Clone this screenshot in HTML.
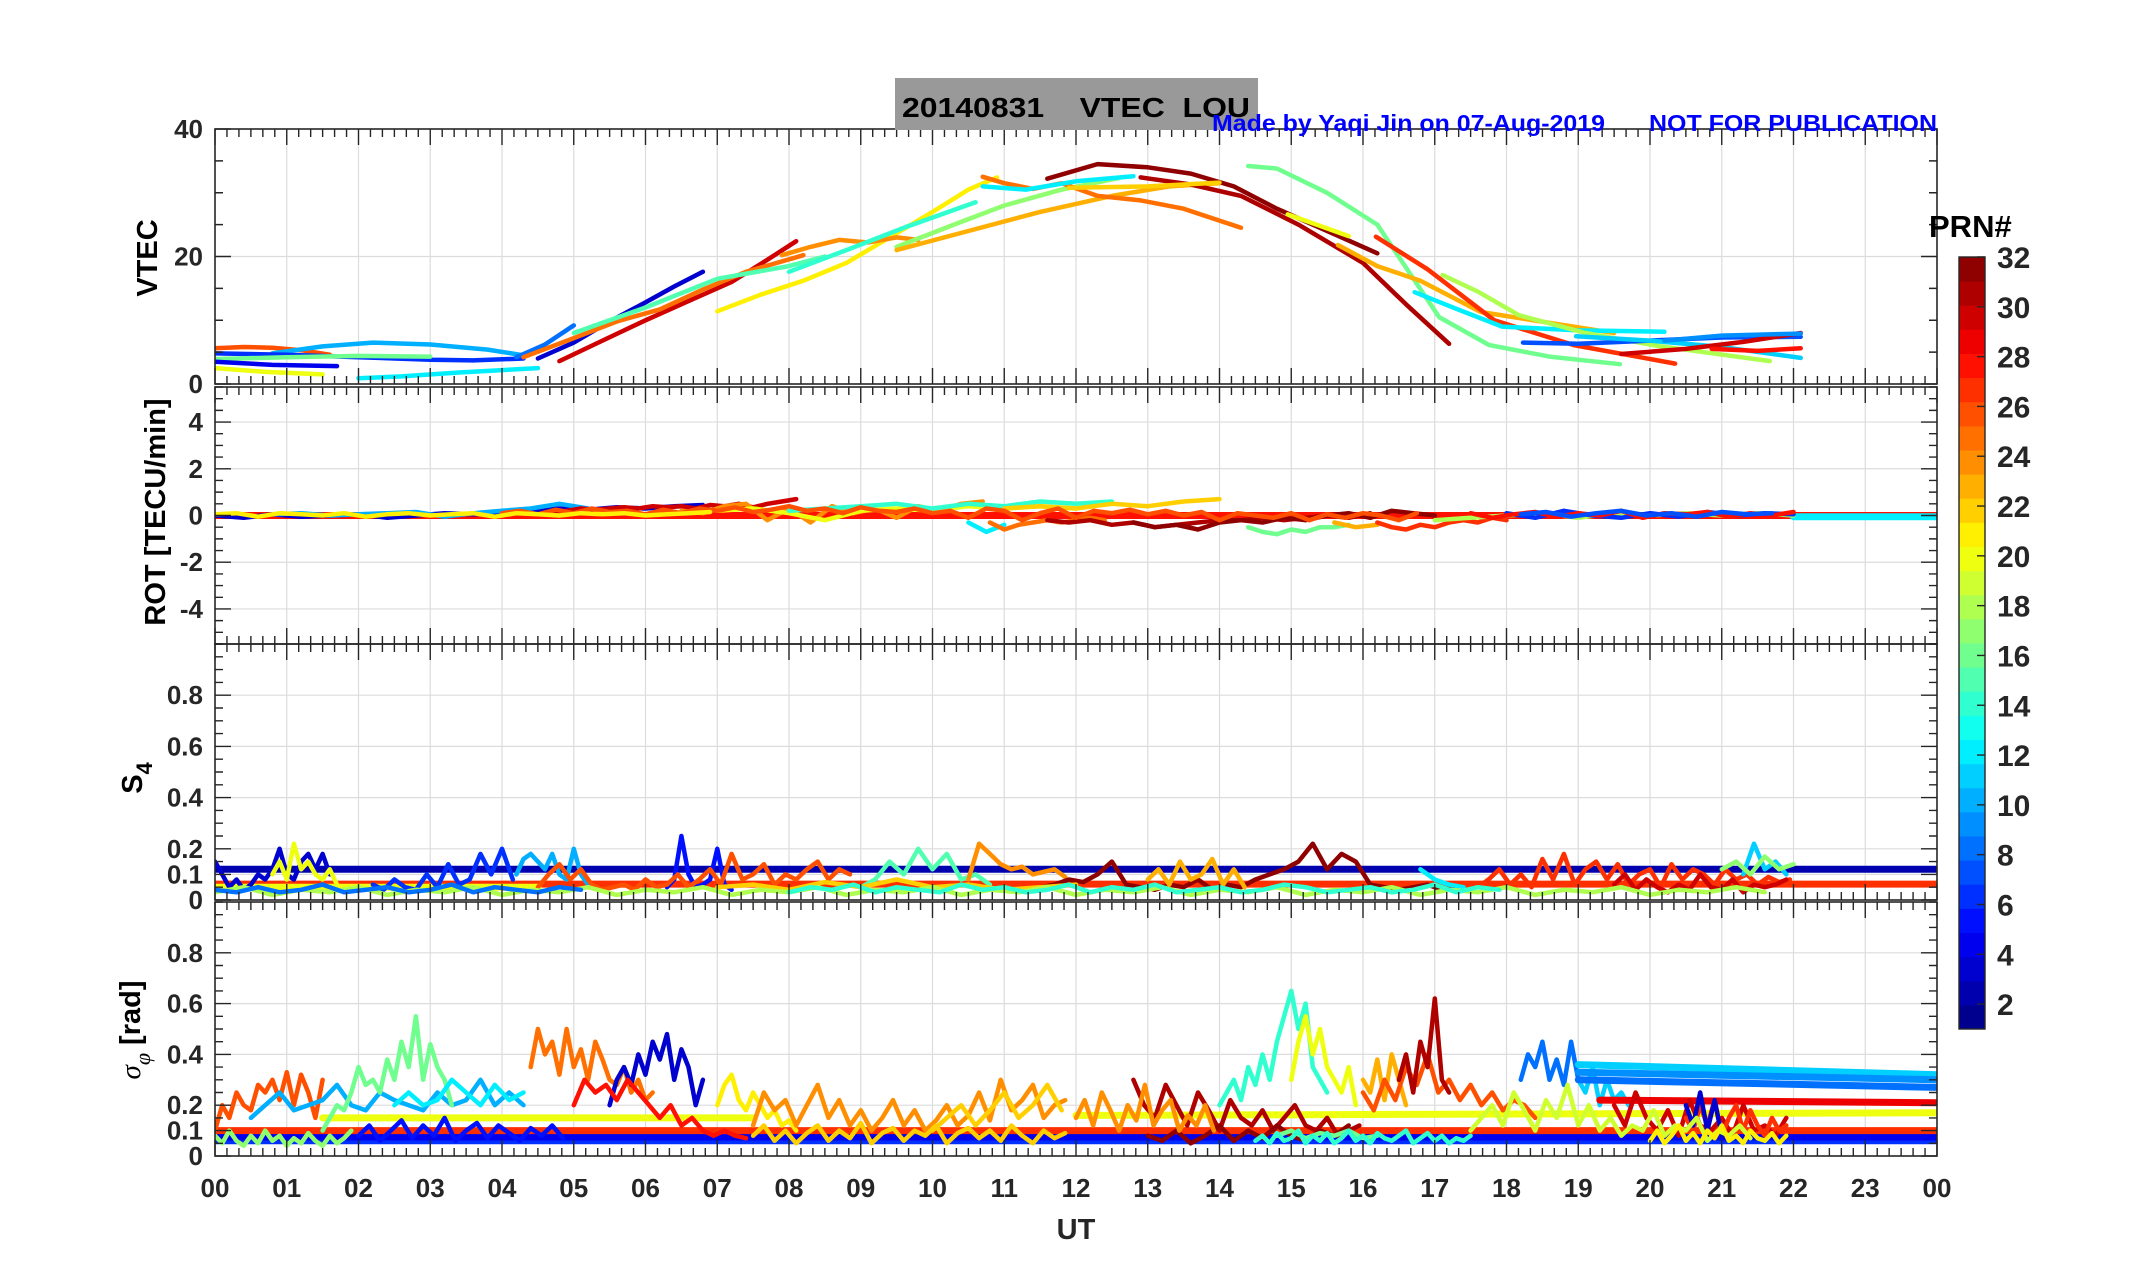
<!DOCTYPE html>
<html><head><meta charset="utf-8"><title>20140831 VTEC LOU</title>
<style>html,body{margin:0;padding:0;background:#fff}svg{display:block}text{font-family:"Liberation Sans",Arial,sans-serif;font-weight:bold}</style></head>
<body>
<svg id="chart" width="2153" height="1286" viewBox="0 0 2153 1286" xmlns="http://www.w3.org/2000/svg">
<rect x="0" y="0" width="2153" height="1286" fill="#fff"/>
<g id="grid"></g><g id="marks"></g><g id="axes"></g>
<rect x="895" y="78" width="363" height="52" fill="#999"/>
<text x="902" y="117" font-size="28" fill="#000" textLength="348" lengthAdjust="spacingAndGlyphs" xml:space="preserve">20140831    VTEC  LOU</text>
<text x="1212" y="131" font-size="23" fill="#0000ff" textLength="393" lengthAdjust="spacingAndGlyphs">Made by Yaqi Jin on 07-Aug-2019</text>
<text x="1649" y="131" font-size="23" fill="#0000ff" textLength="288" lengthAdjust="spacingAndGlyphs">NOT FOR PUBLICATION</text>
<text transform="translate(157,258) rotate(-90)" text-anchor="middle" font-size="29" fill="#000">VTEC</text>
<text transform="translate(165,512) rotate(-90)" text-anchor="middle" font-size="29" fill="#000">ROT [TECU/min]</text>
<text transform="translate(142,778) rotate(-90)" text-anchor="middle" font-size="29" fill="#000">S<tspan font-size="22" dy="10">4</tspan></text>
<text transform="translate(140,1030) rotate(-90)" text-anchor="middle" font-size="29" fill="#000"><tspan font-family="Liberation Serif" font-style="italic" font-weight="normal">σ</tspan><tspan font-size="22" dy="10" font-family="Liberation Serif" font-style="italic" font-weight="normal">φ</tspan><tspan dy="-10"> [rad]</tspan></text>
<text x="1076" y="1239" text-anchor="middle" font-size="29" fill="#262626">UT</text>
<g id="cbar"></g>
<text x="1929" y="237" font-size="31" fill="#000">PRN#</text>
</svg>
<script>
// ---------- data ----------
const hourLabels=["00","01","02","03","04","05","06","07","08","09","10","11","12","13","14","15","16","17","18","19","20","21","22","23","00"];
const prnTicks=[2,4,6,8,10,12,14,16,18,20,22,24,26,28,30,32];
// VTEC arcs: prn, times (h), values (TECU)
const vtecPrn=[26,10,6,16,4,20,12,8,3,30,25,15,21,24,17,14,23,25,12,32,31,16,20,22,23,27,12,18,7,11,30,28,9];
const vtecT=[
[0,0.4,0.8,1.2,1.6],[0.8,1.5,2.2,3,3.8,4.3],[0,1,2,3,3.6,4.3],[0,1,2,3],[0,0.8,1.7],[0,0.7,1.5],[2,2.6,3.4,4.5],
[4.2,4.6,5.0],[4.5,5,5.5,6,6.4,6.8],[4.8,5.4,6,6.6,7.2,7.7,8.1],[4.3,5,5.6,6.2,6.8,7.4,8.2],[5.0,6,7,8,8.5],
[7,7.6,8.2,8.8,9.4,10,10.5,10.9],[7.9,8.3,8.7,9.1,9.5,9.8],[9.5,10.3,11,11.8,12.6],[8,8.8,9.6,10.6],[9.5,10.5,11.5,12.5,13.3,14],
[10.7,11,11.4,11.8,12.3,12.9,13.5,14.3],[10.7,11.3,12,12.8],[11.6,12.3,13,13.6,14.2,14.8,15.4,16.2],[12.9,13.6,14.3,15.1,16,16.6,17.2],
[14.4,14.8,15.5,16.2,17.06,17.76,18.6,19.58],[14.95,15.4,15.8],[11.9,13,14],[15.65,16.2,16.8,17.64,18.6,19.5],[16.18,16.9,17.83,18.94,20.35],
[16.72,17.3,17.94,19,20.2],[17.11,17.6,18.17,19.1,20.1,21.67],[18.23,19,20,21,22.1],[18.97,20,21,22.1],[19.6,20.5,21.3,22.1],[20.86,21.5,22.1],[20.2,21,22.1]];
const vtecV=[
[5.6,5.8,5.7,5.3,4.6],[4.8,5.9,6.5,6.2,5.4,4.5],[4.8,4.6,4.2,3.8,3.7,4.0],[3.9,4.2,4.4,4.3],[3.5,3.0,2.8],[2.5,1.9,1.5],[0.9,1.2,1.8,2.5],
[4.2,6.2,9.2],[4,6.5,9.8,12.8,15.3,17.6],[3.6,6.8,10,13,16,19.5,22.4],[4.2,7.2,9.8,11.7,14.8,17.6,20.2],[8,12,16.5,18.5,20],
[11.4,14,16.2,19,23,27,30.5,32.4],[20.2,21.5,22.6,22.2,23,22.6],[21.5,25,28,30.5,32.3],[17.6,21,24.5,28.5],[21,24,27,29.5,31,31.5],
[32.5,31.5,30.6,31.5,29.5,28.8,27.5,24.5],[31,30.5,31.8,32.6],[32.2,34.5,34,33,31,27.5,24.5,20.5],[32.4,31.3,29.5,25,19,12.5,6.3],
[34.2,33.8,30,25,10.5,6.1,4.3,3.1],[26.6,24.8,23.2],[30.8,31,31.6],[21.8,18.5,16.2,11.3,9.6,8],[23.1,18,10,6.1,3.2],
[14.4,11.8,9,8.4,8.2],[17.1,14.5,10.8,8,6,3.6],[6.5,6.3,6.8,7.3,7.4],[7.5,6.8,5.8,4.1],[4.7,5.5,6.6,8],[5.5,5.2,5.6],[6.8,7.6,7.9]];
// ROT series: prn, start time, step (h), values (TECU/min)
const rotPrn=[28,12,3,10,30,24,20,14,12,25,22,31,32,16,23,27,18,6,28,7,26,21];
const rotT0=[0,22,0,0.8,4.7,6.5,7,8,10.5,10.8,11,11.6,12.8,14.4,15.6,16.2,17,18,17.5,18.2,4,0];
const rotDt=[24,2,0.4,0.4,0.2,0.3,0.5,0.5,0.25,0.2,0.5,0.3,0.3,0.2,0.3,0.2,0.5,0.4,0.3,0.35,0.25,0.3];
const rotV=[
[0,0],[-0.05,-0.05],
[0,-0.1,0.05,-0.05,0,0.05,-0.1,0,0.1,0.05,0.1,0.2,0.3,0.25,0.35,0.3,0.4,0.45],
[0.05,0.1,0,0.05,0.1,0.15,-0.05,0.1,0.2,0.3,0.5,0.3],
[0.1,0.2,0.3,0.25,0.3,0.35,0.3,0.4,0.35,0.4,0.3,0.45,0.4,0.5,0.35,0.5,0.6,0.7],
[0.2,0.1,0.4,0.5,-0.2,0.3,-0.3,0.4,0.1,0.3,-0.1,0.4,0.2,0.5,0.6],
[0.2,0.3,0.1,-0.2,0.2,0.3,0.2,0.4,0.3,0.4,0.3],
[0.2,0.3,0.4,0.5,0.3,0.5,0.4,0.6,0.5,0.6],
[-0.3,-0.7,-0.4],
[-0.3,-0.6,-0.4,-0.3,-0.2,-0.3,-0.2,-0.1,-0.2],
[0.3,0.4,0.3,0.5,0.4,0.6,0.7],
[-0.2,-0.3,-0.2,-0.4,-0.3,-0.5,-0.4,-0.3,-0.2,-0.2,-0.1,-0.2,-0.1,0,-0.1,0.1],
[-0.3,-0.5,-0.4,-0.6,-0.3,-0.2,-0.3,-0.1,-0.2,0,0.1,-0.1,0.2,0.1,0],
[-0.5,-0.7,-0.8,-0.6,-0.7,-0.5,-0.5,-0.4],
[-0.3,-0.5,-0.4],
[-0.3,-0.5,-0.6,-0.4,-0.5,-0.3,-0.2,-0.3,-0.1,-0.2],
[-0.2,-0.1,0,0.1,-0.1,0.1,0,0.1,0,0.1,0],
[0.1,-0.1,0.2,0,-0.1,0.1,-0.05,0.15,0,0.1,0.05],
[0.1,-0.1,0.05,0.15,-0.05,0.1,0,0.2,-0.1,0.1,0.05,0.15,-0.05,0.1,0,0.15],
[0.05,0.15,-0.05,0.1,0.2,0,0.1,-0.05,0.15,0.05,0.1],
[0.1,0.2,0.05,0.25,0.1,0.3,0.15,0.2,0.05,0.25,0.1,0.3,0.2,0.35,0.15,0.25,0.4,0.2,0.3,0.1,0.35,0.2,0.15,0.3,0.1,0.2,-0.1,0.3,0.2,-0.2,0.1,0.3,-0.1,0.2,0.1,0.25,0.05,0.2,0,0.15,-0.2,0.1,0,-0.1,0.1,-0.2,0.05,-0.1,0.1,0,-0.2,0.1],
[0.05,0.1,-0.05,0.1,0.05,0,0.1,-0.05,0.05,0.1,0,0.05,0.1,-0.05,0.1,0.05,0,0.1,0.05,0.1,0,0.05,0.1,0.15]];
// S4 series
const s4Prn=[2,27,20,3,20,6,10,5,26,15,24,32,23,12,27,30,11,17,22,18,8,14];
const s4T0=[0,0,0,0,0.8,2.2,4.2,6.3,4.5,9,10.5,11.5,13,16.8,17.6,19.5,21.3,21,7,0,0,8];
const s4Dt=[24,24,4.5,0.1,0.1,0.15,0.1,0.1,0.15,0.2,0.15,0.2,0.15,0.2,0.15,0.15,0.15,0.2,0.5,0.4,0.3,0.3];
const s4V=[
[0.12,0.12],[0.062,0.062],[0.05,0.05],
[0.15,0.1,0.05,0.08,0.04,0.06,0.1,0.08,0.12,0.2,0.1,0.08,0.15,0.18,0.12,0.18,0.1],
[0.1,0.15,0.08,0.22,0.12,0.15,0.1,0.08,0.12,0.06],
[0.06,0.04,0.08,0.05,0.04,0.1,0.05,0.14,0.06,0.08,0.18,0.1,0.2,0.08],
[0.1,0.16,0.18,0.15,0.12,0.18,0.1,0.08,0.2,0.1,0.06,0.05],
[0.05,0.08,0.25,0.1,0.05,0.06,0.08,0.2,0.06,0.04],
[0.05,0.1,0.14,0.08,0.12,0.06,0.04,0.05,0.06,0.04,0.08,0.05,0.06,0.1,0.05,0.08,0.12,0.06,0.18,0.08,0.1,0.14,0.06,0.1,0.08,0.12,0.15,0.08,0.12,0.1],
[0.05,0.08,0.15,0.1,0.2,0.12,0.18,0.08,0.1,0.06],
[0.08,0.22,0.18,0.14,0.12,0.13,0.1,0.11,0.12,0.09],
[0.05,0.06,0.08,0.07,0.1,0.15,0.06,0.05,0.04,0.06,0.05,0.08,0.04,0.06,0.05,0.08,0.1,0.12,0.15,0.22,0.12,0.18,0.15,0.06,0.05,0.04,0.05,0.06,0.04,0.05],
[0.08,0.12,0.06,0.15,0.08,0.1,0.16,0.06,0.12,0.05],
[0.12,0.08,0.06,0.05],
[0.05,0.08,0.12,0.06,0.1,0.05,0.16,0.08,0.18,0.06,0.12,0.15,0.08,0.14,0.06,0.1,0.12,0.05,0.14,0.08,0.12,0.1,0.06,0.12,0.08,0.1,0.06,0.09,0.07,0.08],
[0.06,0.1,0.04,0.08,0.05,0.03,0.06,0.04,0.1,0.05,0.04,0.08,0.03,0.06,0.05,0.06,0.08],
[0.1,0.22,0.12,0.15,0.1],
[0.12,0.15,0.1,0.17,0.12,0.14],
[0.05,0.06,0.04,0.07,0.05,0.08,0.05,0.06,0.04,0.05,0.06],
[0.03,0.05,0.02,0.04,0.03,0.05,0.02,0.04,0.03,0.05,0.02,0.04,0.03,0.05,0.02,0.04,0.03,0.05,0.02,0.04,0.03,0.05,0.02,0.04,0.03,0.05,0.02,0.04,0.03,0.05,0.02,0.04,0.03,0.05,0.02,0.04,0.03,0.05,0.02,0.04,0.03,0.05,0.02,0.04,0.03,0.05,0.02,0.04,0.03,0.05,0.02,0.04,0.03,0.05,0.03],
[0.04,0.03,0.05,0.03,0.04,0.06,0.03,0.04,0.05,0.03,0.04,0.06,0.03,0.05,0.04,0.03,0.05,0.04],
[0.03,0.05,0.04,0.06,0.03,0.05,0.04,0.03,0.06,0.04,0.05,0.03,0.04,0.06,0.03,0.05,0.04,0.06,0.03,0.04,0.05,0.03,0.04,0.06,0.05,0.03,0.04,0.05,0.03,0.04,0.06,0.03,0.05,0.04]];
// Sigma-phi series
const spPrn=[6,4,27,20,20,26,10,16,12,25,3,28,21,24,22,31,32,14,20,23,26,31,8,11,11,9,8,29,30,27,3,16,17,5,22,14,24,19,21];
const spT0=[0,0,0,1.5,12,0,0.5,1.5,2.5,4.4,5.5,5,7,7.5,10,12.8,13,14,15,16,16,16.5,18.2,19,19,19,19,19.3,19.5,20.5,20.5,14.8,0,2,7.5,14.5,12,17.5,20];
const spDt=[24,24,24,6,12,0.1,0.2,0.1,0.2,0.1,0.1,0.15,0.1,0.15,0.2,0.15,0.2,0.1,0.1,0.1,0.15,0.1,0.1,0.1,5,5,5,4.7,0.15,0.1,0.1,0.2,0.1,0.15,0.15,0.1,0.12,0.15,0.1];
const spV=[
[0.06,0.06],[0.075,0.075],[0.1,0.1],[0.15,0.15],[0.16,0.17],
[0.1,0.2,0.15,0.25,0.2,0.18,0.28,0.25,0.3,0.22,0.33,0.2,0.32,0.25,0.15,0.3],
[0.15,0.2,0.25,0.18,0.2,0.22,0.28,0.2,0.18,0.25,0.22,0.2,0.18,0.25,0.2,0.22,0.3,0.2,0.25,0.2],
[0.1,0.15,0.2,0.18,0.25,0.35,0.28,0.3,0.25,0.38,0.3,0.45,0.35,0.55,0.3,0.44,0.35,0.3,0.2],
[0.2,0.25,0.2,0.22,0.3,0.25,0.2,0.28,0.22,0.25],
[0.35,0.5,0.4,0.45,0.32,0.5,0.35,0.42,0.3,0.45,0.38,0.3,0.28,0.35,0.25,0.3,0.22,0.25],
[0.2,0.3,0.35,0.28,0.4,0.32,0.45,0.38,0.48,0.3,0.42,0.35,0.2,0.3],
[0.2,0.3,0.25,0.28,0.22,0.3,0.25,0.2,0.15,0.2,0.12,0.15,0.1,0.08,0.1,0.08,0.07],
[0.2,0.28,0.32,0.22,0.18,0.25,0.2,0.15,0.18,0.12,0.14,0.1],
[0.12,0.25,0.18,0.22,0.12,0.2,0.28,0.15,0.22,0.12,0.18,0.1,0.15,0.22,0.12,0.18,0.1,0.14,0.2,0.12,0.16,0.25,0.14,0.3,0.18,0.22,0.28,0.15,0.2,0.22],
[0.1,0.15,0.2,0.12,0.18,0.25,0.15,0.2,0.28,0.18],
[0.3,0.2,0.15,0.28,0.2,0.12,0.25,0.18,0.1,0.22,0.15,0.12,0.18,0.1,0.15,0.2,0.12,0.1,0.15,0.08,0.1,0.12],
[0.08,0.06,0.1,0.05,0.08,0.12,0.06,0.1,0.07,0.12,0.08,0.06,0.1,0.08,0.12],
[0.2,0.25,0.3,0.22,0.35,0.28,0.4,0.3,0.45,0.55,0.65,0.5,0.6,0.35,0.3,0.25],
[0.3,0.45,0.55,0.4,0.5,0.35,0.3,0.25,0.35,0.2],
[0.3,0.25,0.38,0.22,0.4,0.3,0.2],
[0.25,0.18,0.3,0.22,0.35,0.28,0.4,0.25,0.3,0.22,0.28,0.2,0.25,0.18,0.22,0.2,0.15],
[0.3,0.4,0.25,0.45,0.35,0.62,0.3,0.25],
[0.3,0.4,0.35,0.45,0.3,0.38,0.28,0.45,0.3],
[0.3,0.25,0.35,0.2,0.3,0.22,0.25,0.2],
[0.36,0.32],[0.33,0.3],[0.3,0.27],[0.22,0.21],
[0.2,0.12,0.25,0.15,0.1,0.18,0.08,0.22,0.12,0.1,0.15,0.08,0.2,0.1,0.12,0.08,0.15],
[0.15,0.1,0.2,0.12,0.22,0.08,0.15,0.2,0.1,0.18,0.12,0.08,0.15,0.1,0.12],
[0.2,0.12,0.25,0.1,0.22,0.08],
[0.08,0.1,0.07,0.09,0.08,0.1,0.07,0.08],
[0.08,0.05,0.1,0.06,0.04,0.08,0.05,0.1,0.06,0.08,0.04,0.07,0.05,0.09,0.06,0.04,0.08,0.05,0.07,0.1],
[0.08,0.12,0.06,0.1,0.14,0.07,0.12,0.08,0.15,0.06,0.1,0.13,0.07,0.12,0.09,0.06,0.11,0.08,0.12,0.07],
[0.08,0.12,0.06,0.1,0.05,0.09,0.12,0.06,0.1,0.07,0.13,0.05,0.09,0.11,0.06,0.1,0.08,0.12,0.05,0.09,0.11,0.07,0.1,0.06,0.12,0.08,0.05,0.1,0.07,0.09],
[0.06,0.08,0.05,0.09,0.06,0.07,0.1,0.05,0.08,0.06,0.09,0.05,0.07,0.1,0.06,0.08,0.05,0.09,0.07,0.06,0.08,0.1,0.05,0.07,0.09,0.06,0.08,0.05,0.07,0.06,0.08],
[0.15,0.22,0.12,0.25,0.18,0.1,0.2,0.14,0.28,0.12,0.18,0.22,0.1,0.16,0.12,0.2,0.1],
[0.1,0.15,0.2,0.12,0.25,0.18,0.1,0.22,0.15,0.28,0.12,0.2,0.1,0.15,0.08,0.12,0.1,0.18,0.08,0.12,0.1,0.15,0.06,0.1,0.08,0.12,0.07],
[0.06,0.1,0.05,0.08,0.12,0.06,0.09,0.05,0.1,0.07,0.12,0.06,0.08,0.05,0.1,0.07,0.06,0.09,0.05,0.08]];
// ---------- layout ----------
const X0=215,X1=1937;
const panels=[
 {top:129,bot:384,min:0,max:40,minor:5,labels:[0,20,40],grid:[20]},
 {top:387,bot:644,min:-5.5,max:5.5,minor:0.5,labels:[-4,-2,0,2,4],grid:[-4,-2,0,2,4]},
 {top:644,bot:900,min:0,max:1,minor:0.05,labels:[0,0.1,0.2,0.4,0.6,0.8],grid:[0.1,0.2,0.4,0.6,0.8]},
 {top:902,bot:1156,min:0,max:1,minor:0.05,labels:[0,0.1,0.2,0.4,0.6,0.8],grid:[0.1,0.2,0.4,0.6,0.8]}];
const panelNames=['vtec','rot','s4','sigma-phi'];
const NS='http://www.w3.org/2000/svg';
function xs(h){return X0+(X1-X0)*h/24;}
function ys(p,v){return p.bot-(p.bot-p.top)*(v-p.min)/(p.max-p.min);}
function jet(prn){const t=(prn-0.5)/32;const c=v=>Math.round(255*Math.max(0,Math.min(1,v)));
 return 'rgb('+c(1.5-Math.abs(4*t-3))+','+c(1.5-Math.abs(4*t-2))+','+c(1.5-Math.abs(4*t-1))+')';}
function mk(tag,attrs,parent){const e=document.createElementNS(NS,tag);for(const k in attrs)e.setAttribute(k,attrs[k]);parent.appendChild(e);return e;}
const grid=document.getElementById('grid'),marks=document.getElementById('marks'),axes=document.getElementById('axes'),defs=mk('defs',{},document.getElementById('chart'));
panels.forEach((p,i)=>{
 const cp=mk('clipPath',{id:'clip'+i},defs);mk('rect',{x:X0,y:p.top,width:X1-X0,height:p.bot-p.top},cp);
 for(let h=1;h<24;h++){const l=mk('line',{x1:xs(h),x2:xs(h),y1:p.top,y2:p.bot,stroke:'#dcdcdc','stroke-width':1.2},grid);
  
  }
 p.grid.forEach(v=>{const l=mk('line',{x1:X0,x2:X1,y1:ys(p,v),y2:ys(p,v),stroke:'#dcdcdc','stroke-width':1.2},grid);
  
  });
 const fr=mk('rect',{x:X0,y:p.top,width:X1-X0,height:p.bot-p.top,fill:'none',stroke:'#262626','stroke-width':1.6},axes);
 
 
 let d='';
 for(let k=0;k<=144;k++){const x=xs(k/6);const L=(k%6===0)?16:8;d+='M'+x+' '+p.top+'v'+L+'M'+x+' '+p.bot+'v'+(-L);}
 const n=Math.round((p.max-p.min)/p.minor);
 for(let k=0;k<=n;k++){const v=p.min+k*p.minor;const y=ys(p,v);const major=p.labels.some(a=>Math.abs(a-v)<1e-6);const L=major?16:8;d+='M'+X0+' '+y+'h'+L+'M'+X1+' '+y+'h'+(-L);}
 const tk=mk('path',{d:d,stroke:'#262626','stroke-width':1.4,fill:'none'},axes);
 
 
 p.labels.forEach(v=>{const t=mk('text',{x:203,y:ys(p,v)+9,'text-anchor':'end','font-size':26,fill:'#262626'},axes);t.textContent=String(v);
  
  });
});
hourLabels.forEach((s,h)=>{const t=mk('text',{x:xs(h),y:1197,'text-anchor':'middle','font-size':26,fill:'#262626'},axes);t.textContent=s;
 
 });
function drawLine(pi,pts,prn,w,name){const p=panels[pi];
 const pl=mk('polyline',{points:pts.map(a=>xs(a[0]).toFixed(1)+','+ys(p,a[1]).toFixed(1)).join(' '),fill:'none',stroke:jet(prn),'stroke-width':w,'stroke-linejoin':'round','stroke-linecap':'round','clip-path':'url(#clip'+pi+')'},marks);
 
 }
vtecPrn.forEach((prn,i)=>drawLine(0,vtecT[i].map((t,j)=>[t,vtecV[i][j]]),prn,4.5,'vtec-arc'));
function drawSeries(pi,prns,t0,dt,vals,name){prns.forEach((prn,i)=>drawLine(pi,vals[i].map((v,j)=>[t0[i]+j*dt[i],v]),prn,vals[i].length<=2?7:4.5,name));}
drawSeries(1,rotPrn,rotT0,rotDt,rotV,'rot-series');
drawSeries(2,s4Prn,s4T0,s4Dt,s4V,'s4-series');
drawSeries(3,spPrn,spT0,spDt,spV,'sigma-series');
// colorbar
const cb=document.getElementById('cbar');const CT=257,CB=1029,CX=1959,CW=26;
function cy(v){return CB-(CB-CT)*(v-1)/31;}
for(let k=1;k<=32;k++){const r=mk('rect',{x:CX,y:CB-(CB-CT)*k/32,width:CW,height:(CB-CT)/32+0.5,fill:jet(k)},cb);
 
 }
const cf=mk('rect',{x:CX,y:CT,width:CW,height:CB-CT,fill:'none',stroke:'#262626','stroke-width':1.4},cb);


prnTicks.forEach(v=>{const l=mk('line',{x1:CX+CW-8,x2:CX+CW,y1:cy(v),y2:cy(v),stroke:'#262626','stroke-width':1.4},cb);
 
 
 const t=mk('text',{x:1997,y:cy(v)+11,'font-size':30,fill:'#262626'},cb);t.textContent=String(v);
 
 });
</script>
</body></html>
